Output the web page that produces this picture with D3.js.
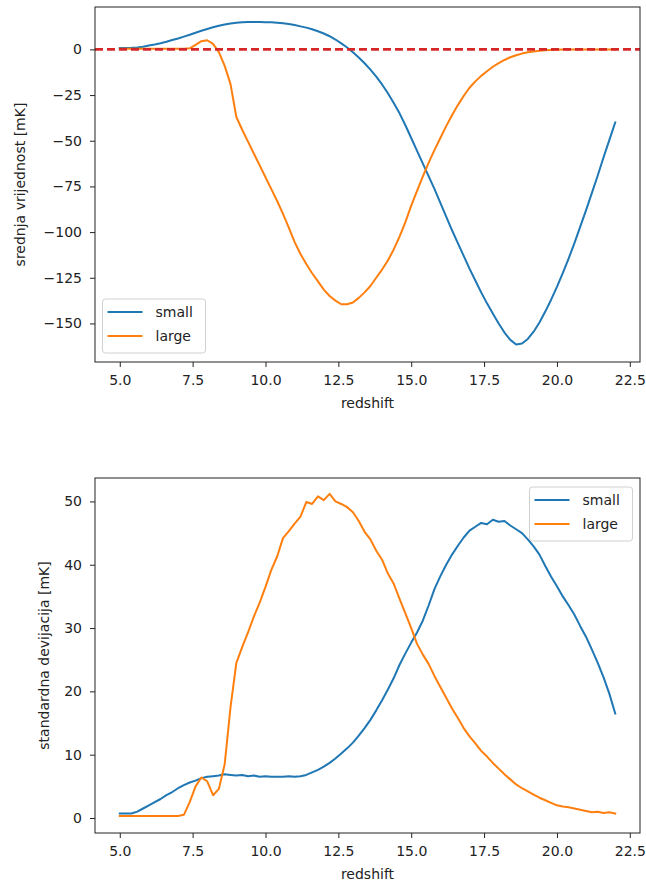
<!DOCTYPE html>
<html>
<head>
<meta charset="utf-8">
<script src="https://cdn.jsdelivr.net/npm/d3@7"></script>
<style>
  html, body { margin: 0; padding: 0; background: #fff; }
  svg { display: block; }
  text { font-family: "DejaVu Sans", sans-serif; }
</style>
</head>
<body>
<svg id="chart" width="646" height="884"></svg>
<script>
// ---------------- data ----------------
const redshift = [
  5.0, 5.2, 5.4, 5.6, 5.8,
  6.0, 6.2, 6.4, 6.6, 6.8,
  7.0, 7.2, 7.4, 7.6, 7.8,
  8.0, 8.2, 8.4, 8.6, 8.8,
  9.0, 9.2, 9.4, 9.6, 9.8,
  10.0, 10.2, 10.4, 10.6, 10.8,
  11.0, 11.2, 11.4, 11.6, 11.8,
  12.0, 12.2, 12.4, 12.6, 12.8,
  13.0, 13.2, 13.4, 13.6, 13.8,
  14.0, 14.2, 14.4, 14.6, 14.8,
  15.0, 15.2, 15.4, 15.6, 15.8,
  16.0, 16.2, 16.4, 16.6, 16.8,
  17.0, 17.2, 17.4, 17.6, 17.8,
  18.0, 18.2, 18.4, 18.6, 18.8,
  19.0, 19.2, 19.4, 19.6, 19.8,
  20.0, 20.2, 20.4, 20.6, 20.8,
  21.0, 21.2, 21.4, 21.6, 21.8,
  22.0
];

// srednja vrijednost [mK]
const meanSmall = [
  0.7, 0.8, 0.9, 1.1, 1.5,
  2.1, 2.7, 3.4, 4.2, 5.1,
  6.0, 7.0, 8.0, 9.1, 10.2,
  11.2, 12.1, 12.9, 13.6, 14.2,
  14.6, 14.9, 15.0, 15.0, 15.0,
  14.9, 14.8, 14.6, 14.3, 13.9,
  13.3, 12.6, 11.9, 11.0, 9.9,
  8.7, 7.2, 5.4, 3.3, 1.0,
  -1.6, -4.4, -7.6, -11.1, -14.9,
  -19.2, -24.0, -29.3, -35.0, -41.5,
  -48.5, -55.5, -62.5, -69.5, -76.5,
  -84.0, -91.5, -99.0, -106.0, -113.0,
  -120.0, -126.5, -133.0, -139.0, -144.5,
  -150.0, -155.0, -159.0, -161.5, -161.0,
  -158.5, -154.5, -149.5, -143.5, -137.0,
  -130.0, -122.5, -114.5, -106.0, -97.0,
  -88.0, -78.5, -69.0, -59.0, -49.5,
  -40.0
];
const meanLarge = [
  0.3, 0.3, 0.3, 0.3, 0.3,
  0.3, 0.3, 0.3, 0.3, 0.3,
  0.3, 0.3, 0.6, 2.5, 4.5,
  5.0, 3.0, -1.5, -9.0, -19.0,
  -37.0, -44.0, -50.5, -57.0, -63.5,
  -70.0, -76.5, -83.0, -90.0, -97.5,
  -105.5, -112.0, -117.5, -122.5, -127.0,
  -131.5, -135.0, -137.5, -139.5, -139.5,
  -138.5, -136.0, -133.0, -129.5, -125.0,
  -120.5, -115.5, -109.5, -102.5, -94.5,
  -85.5, -77.5, -69.5, -62.0, -55.0,
  -48.5, -42.0, -36.0, -30.5, -25.5,
  -21.0, -17.5, -14.5, -12.0, -9.5,
  -7.5, -5.8, -4.3, -3.2, -2.3,
  -1.6, -1.1, -0.8, -0.5, -0.3,
  -0.2, -0.1, 0.0, 0.0, 0.0,
  0.0, 0.0, 0.0, 0.0, 0.0,
  0.0
];

// standardna devijacija [mK]
const stdSmall = [
  0.7, 0.7, 0.7, 1.0, 1.5,
  2.0, 2.5, 3.0, 3.6, 4.1,
  4.7, 5.2, 5.6, 5.9, 6.3,
  6.5, 6.6, 6.7, 6.9, 6.8,
  6.7, 6.8, 6.6, 6.7, 6.5,
  6.6, 6.5, 6.5, 6.5, 6.6,
  6.5, 6.6, 6.8, 7.2, 7.6,
  8.1, 8.7, 9.4, 10.2, 11.0,
  11.9, 13.0, 14.2, 15.5, 17.0,
  18.6, 20.3, 22.1, 24.2, 26.0,
  27.7, 29.3, 31.2, 33.6, 36.2,
  38.2, 40.0, 41.6, 43.0, 44.3,
  45.4, 46.0, 46.6, 46.4, 47.1,
  46.8, 46.9, 46.2, 45.6, 45.0,
  44.0, 42.9, 41.6, 39.8, 38.1,
  36.6, 35.0, 33.6, 32.1, 30.3,
  28.6, 26.6, 24.5, 22.2, 19.6,
  16.5
];
const stdLarge = [
  0.3, 0.3, 0.3, 0.3, 0.3,
  0.3, 0.3, 0.3, 0.3, 0.3,
  0.3, 0.5, 2.5, 5.0, 6.4,
  5.8, 3.6, 4.6, 8.5, 17.5,
  24.5, 27.0, 29.3, 31.8, 34.0,
  36.5, 39.2, 41.3, 44.2, 45.3,
  46.5, 47.6, 49.9, 49.6, 50.8,
  50.2, 51.2, 50.0, 49.6, 49.1,
  48.3, 46.9, 45.2, 44.0, 42.2,
  40.8, 38.6, 37.0, 34.6, 32.3,
  30.0, 27.5, 25.8, 24.3, 22.4,
  20.7, 19.0, 17.3, 15.8, 14.2,
  12.9, 11.8, 10.6, 9.7, 8.7,
  7.8, 6.9, 6.1, 5.3, 4.7,
  4.2, 3.7, 3.2, 2.8, 2.4,
  2.0, 1.8, 1.7, 1.5, 1.3,
  1.1, 0.9, 1.0, 0.8, 0.9,
  0.7
];

const seriesNames = ["small", "large"];
const seriesColors = ["#1f77b4", "#ff7f0e"];
const xTicks = [5.0, 7.5, 10.0, 12.5, 15.0, 17.5, 20.0, 22.5];
const yTicksTop = [0, -25, -50, -75, -100, -125, -150];
const yTicksBottom = [0, 10, 20, 30, 40, 50];
const xLabel = "redshift";
const yLabelTop = "srednja vrijednost [mK]";
const yLabelBottom = "standardna devijacija [mK]";

// ---------------- drawing ----------------
const svg = d3.select("#chart");
const FONT = 14;

function panel(cfg) {
  const g = svg.append("g");
  const x = d3.scaleLinear().domain(cfg.xDomain).range([cfg.left, cfg.right]);
  const y = d3.scaleLinear().domain(cfg.yDomain).range([cfg.bottom, cfg.top]);

  const clipId = "clip" + cfg.id;
  svg.append("clipPath").attr("id", clipId).append("rect")
    .attr("x", cfg.left).attr("y", cfg.top)
    .attr("width", cfg.right - cfg.left).attr("height", cfg.bottom - cfg.top);

  const plot = g.append("g").attr("clip-path", `url(#${clipId})`);
  const line = d3.line().x(d => x(d[0])).y(d => y(d[1]));

  cfg.series.forEach((vals, i) => {
    plot.append("path")
      .datum(redshift.map((z, k) => [z, vals[k]]))
      .attr("fill", "none")
      .attr("stroke", seriesColors[i])
      .attr("stroke-width", 2)
      .attr("stroke-linejoin", "round")
      .attr("stroke-linecap", "square")
      .attr("d", line);
  });

  if (cfg.zeroLine) {
    plot.append("line")
      .attr("x1", cfg.left).attr("x2", cfg.right)
      .attr("y1", y(0)).attr("y2", y(0))
      .attr("stroke", "#d62728")
      .attr("stroke-width", 2.6)
      .attr("stroke-dasharray", "8,4");
  }

  // axes
  const xAxis = d3.axisBottom(x).tickValues(xTicks).tickFormat(d3.format(".1f"))
    .tickSizeInner(5).tickSizeOuter(0).tickPadding(8);
  const yAxis = d3.axisLeft(y).tickValues(cfg.yTicks).tickFormat(d3.format("d"))
    .tickSizeInner(5).tickSizeOuter(0).tickPadding(8);

  const gx = g.append("g").attr("transform", `translate(0,${cfg.bottom})`).call(xAxis);
  const gy = g.append("g").attr("transform", `translate(${cfg.left},0)`).call(yAxis);
  [gx, gy].forEach(a => {
    a.select(".domain").remove();
    a.selectAll(".tick line").attr("stroke", "#222").attr("stroke-width", 1);
    a.selectAll(".tick text").attr("fill", "#222").style("font-size", FONT + "px")
      .style("font-family", '"DejaVu Sans", sans-serif');
  });

  // frame
  g.append("rect")
    .attr("x", cfg.left).attr("y", cfg.top)
    .attr("width", cfg.right - cfg.left).attr("height", cfg.bottom - cfg.top)
    .attr("fill", "none").attr("stroke", "#222").attr("stroke-width", 1);

  // axis labels
  g.append("text")
    .attr("x", (cfg.left + cfg.right) / 2).attr("y", cfg.bottom + 46)
    .attr("text-anchor", "middle").attr("fill", "#222")
    .style("font-size", FONT + "px").text(xLabel);
  g.append("text")
    .attr("transform", `translate(${cfg.yLabelX},${(cfg.top + cfg.bottom) / 2}) rotate(-90)`)
    .attr("text-anchor", "middle").attr("fill", "#222")
    .style("font-size", FONT + "px").text(cfg.yLabel);

  // legend
  const L = cfg.legend;
  const lg = g.append("g");
  lg.append("rect")
    .attr("x", L.x).attr("y", L.y).attr("width", 103).attr("height", 54)
    .attr("rx", 3).attr("ry", 3)
    .attr("fill", "#fff").attr("fill-opacity", 0.8)
    .attr("stroke", "#d0d0d0").attr("stroke-width", 1);
  seriesNames.forEach((name, i) => {
    const yy = L.y + 13 + i * 24;
    lg.append("line")
      .attr("x1", L.x + 5).attr("x2", L.x + 40)
      .attr("y1", yy).attr("y2", yy)
      .attr("stroke", seriesColors[i]).attr("stroke-width", 2);
    lg.append("text")
      .attr("x", L.x + 53).attr("y", yy + 5)
      .attr("fill", "#222").style("font-size", FONT + "px").text(name);
  });
}

panel({
  id: "top",
  left: 95, right: 640, top: 7, bottom: 362,
  xDomain: [4.15, 22.85], yDomain: [-171.1, 23.2],
  yTicks: yTicksTop, yLabel: yLabelTop, yLabelX: 25,
  series: [meanSmall, meanLarge], zeroLine: true,
  legend: { x: 102.5, y: 299 }
});

panel({
  id: "bottom",
  left: 95, right: 640, top: 478, bottom: 833,
  xDomain: [4.15, 22.85], yDomain: [-2.37, 53.7],
  yTicks: yTicksBottom, yLabel: yLabelBottom, yLabelX: 49,
  series: [stdSmall, stdLarge], zeroLine: false,
  legend: { x: 529.5, y: 487 }
});
</script>
</body>
</html>
